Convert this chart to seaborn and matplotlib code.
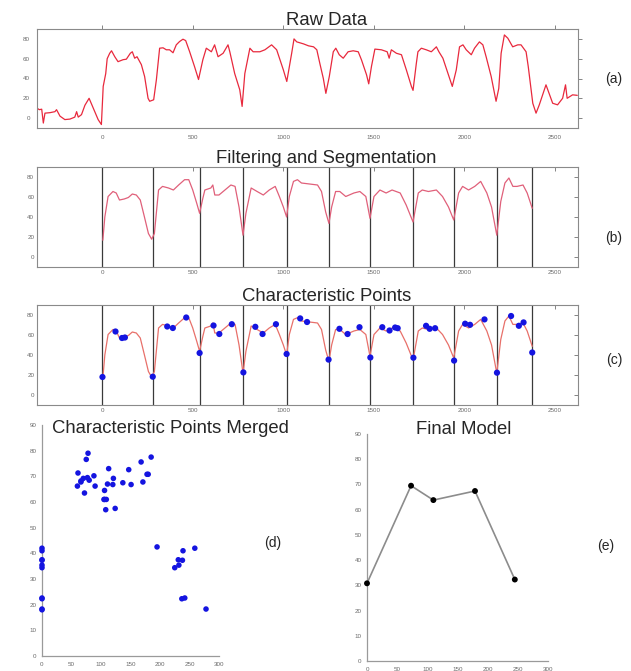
import matplotlib
matplotlib.use("Agg")
import matplotlib.pyplot as plt
import numpy as np
import pandas as pd
import seaborn as sns

# ---- raw sensor trace (sample index, value) ----
raw_x = [-362, -349, -336, -327, -318, -290, -263, -254, -235, -208, -180, -153, -143, -134,
         -116, -97, -74, -51, -24, -6, 4, 18, 26, 40, 50, 68, 86, 114, 132, 154, 165, 178,
         191, 215, 233, 252, 261, 283, 298, 316, 335, 353, 371, 390, 408, 426, 445, 460,
         482, 509, 531, 555, 574, 602, 620, 639, 667, 694, 704, 731, 759, 772, 787, 815,
         833, 870, 898, 935, 963, 1000, 1019, 1046, 1059, 1074, 1111, 1139, 1167, 1185,
         1202, 1221, 1235, 1254, 1276, 1290, 1309, 1331, 1358, 1386, 1414, 1432, 1460,
         1472, 1487, 1506, 1542, 1574, 1585, 1597, 1625, 1653, 1680, 1708, 1717, 1735,
         1744, 1763, 1790, 1818, 1846, 1860, 1882, 1910, 1934, 1956, 1974, 1993, 2011,
         2039, 2057, 2084, 2103, 2121, 2149, 2176, 2191, 2204, 2222, 2241, 2268, 2296,
         2314, 2342, 2354, 2379, 2397, 2415, 2452, 2489, 2516, 2544, 2560, 2569, 2599, 2625]
raw_y = [10, 8.5, 9, -5, 5, 5.5, 6.5, 8.5, 2, -1.5, -1, 1, 6.5, 1,
         3.5, 13, 20, 10, -1.5, -6.5, 32, 45, 60, 65.5, 68, 62, 57, 59, 59.5, 65.5, 67, 60.5,
         62, 54, 42, 20, 17, 18.5, 38.7, 70.6, 71, 69, 69, 66, 74, 77.3, 79.7, 78.3,
         67, 52, 39, 59, 70.6, 67, 74, 62, 65.5, 74, 67, 45, 28.6, 11.8, 45, 70.6,
         67, 67, 69, 74, 69, 48.7, 37, 65.5, 80, 77, 75, 73, 72, 69,
         55, 40, 25, 42, 67, 70.6, 64, 60.5, 67, 68, 67, 58.8, 43.7,
         34.6, 52, 69.7, 69, 67, 60.5, 69, 65.5, 64, 48.7, 32, 28, 55,
         67, 70.6, 69, 67, 72, 67, 60.5, 45, 32, 48.7, 72, 74, 69,
         64, 70.6, 77, 74, 62, 42, 17, 30, 65.5, 84, 80.7, 72, 74,
         74, 67, 52, 15, 5, 13.4, 33.6, 15, 13.4, 20, 33.6, 20, 23.5, 23]

# ---- filtered trace ----
filt_x = [2, 13, 31, 58, 76, 94, 120, 143, 165, 187, 209, 232, 254, 272, 287, 310, 332, 365,
          392, 421, 454, 477, 499, 521, 537, 555, 566, 599, 610, 621, 644, 677, 710, 733,
          755, 777, 793, 822, 855, 889, 922, 955, 978, 1000, 1018, 1033, 1056, 1078, 1100,
          1145, 1189, 1211, 1234, 1252, 1267, 1289, 1312, 1345, 1390, 1423, 1456, 1479,
          1501, 1534, 1568, 1601, 1646, 1679, 1717, 1746, 1768, 1802, 1846, 1880, 1913,
          1942, 1969, 1991, 2024, 2058, 2091, 2125, 2151, 2180, 2202, 2225, 2247, 2269,
          2292, 2325, 2348, 2376]
filt_y = [16.8, 40, 60.5, 65.5, 64, 57, 58, 59.5, 63, 62, 57, 40, 23.5, 17.8, 23.5, 67, 70.6, 69,
          67, 72, 77.3, 77.3, 67, 53.8, 43.7, 58.8, 67, 69, 72, 62, 62, 67, 72, 70.6,
          50, 21.8, 43.7, 69, 65.5, 62, 67, 70.6, 60.5, 50, 40, 60.5, 75.6, 77.3, 74,
          73, 72, 65.5, 45, 33.6, 50, 65.5, 65.5, 60.5, 64, 65.5, 60.5, 38.7,
          60.5, 67, 64, 67, 64, 52, 35, 64, 67, 65.5, 67, 60.5, 50,
          37, 64, 70.6, 67, 70.6, 75.6, 64, 50, 21.8, 55.5, 74, 79, 70.6,
          70.6, 72, 64, 48.7]

# ---- segmentation ----
seg_bounds = [0, 278, 537, 779, 1018, 1250, 1481, 1719, 1944, 2181, 2376]
bound_vals = [18, 18.3, 42, 22.6, 41, 35.4, 37.5, 37.3, 34.4, 22.3, 42.5]

# characteristic points inside each segment: offset from segment start, value
seg_offsets = [
    [72, 108, 124],
    [80, 111, 185],
    [77, 109, 178],
    [66, 106, 180],
    [75, 113],
    [60, 105, 171],
    [66, 106, 137, 151],
    [70, 90, 120],
    [61, 88, 168],
    [78, 121, 147],
]
seg_values = [
    [63.5, 57, 57.5],
    [68.5, 67, 77.5],
    [69.5, 61, 70.8],
    [68.2, 61, 70.8],
    [76.6, 73],
    [66.2, 61, 67.8],
    [67.8, 64.5, 67.5, 66.8],
    [69.2, 66.2, 66.8],
    [71.3, 70.2, 75.6],
    [79, 69.2, 72.6],
]

# ---- final model ----
model_x = [0, 73, 110, 179, 245]
model_y = [30.8, 69.5, 63.8, 67.4, 32.3]

# build tables
raw_df = pd.DataFrame({"t": raw_x, "v": raw_y})
filt_df = pd.DataFrame({"t": filt_x, "v": filt_y})

cp_t, cp_v = [], []
mg_t, mg_v = [], []
for i, (offs, vals) in enumerate(zip(seg_offsets, seg_values)):
    start = seg_bounds[i]
    length = seg_bounds[i + 1] - seg_bounds[i]
    mg_t.append(0)
    mg_v.append(bound_vals[i])
    for o, v in zip(offs, vals):
        cp_t.append(start + o)
        cp_v.append(v)
        mg_t.append(o)
        mg_v.append(v)
    mg_t.append(length)
    mg_v.append(bound_vals[i + 1])
cp_t += seg_bounds
cp_v += bound_vals
cp_df = pd.DataFrame({"t": cp_t, "v": cp_v})
mg_df = pd.DataFrame({"t": mg_t, "v": mg_v})
model_df = pd.DataFrame({"t": model_x, "v": model_y})

sns.set_style("white")
plt.rcParams["font.family"] = ["Liberation Sans", "DejaVu Sans"]

W, H = 631, 671
fig = plt.figure(figsize=(W / 100, H / 100), dpi=100)


def px_axes(left, top, right, bottom):
    return fig.add_axes([left / W, 1 - bottom / H, (right - left) / W, (bottom - top) / H])


ax_a = px_axes(37, 29, 578, 128)
ax_b = px_axes(37, 167, 578, 267)
ax_c = px_axes(37, 305, 578, 405)
ax_d = px_axes(42, 425, 219, 656)
ax_e = px_axes(367, 434, 548, 661)

spine_col = "#8a8a8a"
tick_col = "#707070"
title_size = 13.3

for ax, direction in ((ax_a, "out"), (ax_b, "in"), (ax_c, "in")):
    ax.set_xlim(-362, 2629)
    ax.set_ylim(-10, 90)
    ax.set_xticks(range(0, 2501, 500))
    ax.set_yticks(range(0, 81, 20))
    ax.tick_params(direction=direction, length=3, width=0.6, color=tick_col,
                   labelsize=4.5, labelcolor="#6a6a6a", top=True, right=True,
                   labeltop=False, labelright=False, pad=2)
    for s in ax.spines.values():
        s.set_color(spine_col)
        s.set_linewidth(0.8)

# (a) raw data
sns.lineplot(data=raw_df, x="t", y="v", ax=ax_a, color="#e8293d", lw=0.9,
             sort=False, estimator=None)
# (b) filtered data with segment borders
for b in seg_bounds:
    ax_b.axvline(b, color="#3a3a3a", lw=0.9)
sns.lineplot(data=filt_df, x="t", y="v", ax=ax_b, color="#e0607a", lw=0.9,
             sort=False, estimator=None)
# (c) characteristic points
for b in seg_bounds:
    ax_c.axvline(b, color="#3a3a3a", lw=0.9)
sns.lineplot(data=filt_df, x="t", y="v", ax=ax_c, color="#e8706a", lw=0.9,
             sort=False, estimator=None)
sns.scatterplot(data=cp_df, x="t", y="v", ax=ax_c, color="#1414e0", s=20,
                edgecolor="none", zorder=5)

for ax in (ax_a, ax_b, ax_c):
    ax.set_xlabel("")
    ax.set_ylabel("")

ax_a.set_title("Raw Data", fontsize=title_size, x=0.535, pad=3)
ax_b.set_title("Filtering and Segmentation", fontsize=title_size, x=0.535, pad=3)
ax_c.set_title("Characteristic Points", fontsize=title_size, x=0.535, pad=3)

# (d) merged points, (e) final model
for ax in (ax_d, ax_e):
    ax.set_xlim(0, 300)
    ax.set_ylim(0, 90)
    ax.set_xticks(range(0, 301, 50))
    ax.set_yticks(range(0, 91, 10))
    ax.tick_params(direction="out", length=2.5, width=0.6, color=tick_col,
                   labelsize=4.5, labelcolor="#6a6a6a", pad=1.5)
    for name in ("top", "right"):
        ax.spines[name].set_visible(False)
    for name in ("left", "bottom"):
        ax.spines[name].set_color("#9a9a9a")
        ax.spines[name].set_linewidth(0.9)

sns.scatterplot(data=mg_df, x="t", y="v", ax=ax_d, color="#1414e0", s=16,
                edgecolor="none", clip_on=False, zorder=5)
sns.lineplot(data=model_df, x="t", y="v", ax=ax_e, color="#8c8c8c", lw=1.2,
             sort=False, estimator=None)
sns.scatterplot(data=model_df, x="t", y="v", ax=ax_e, color="black", s=18,
                edgecolor="none", clip_on=False, zorder=5)
for ax in (ax_d, ax_e):
    ax.set_xlabel("")
    ax.set_ylabel("")

fig.text(170 / W, 1 - 433 / H, "Characteristic Points Merged", fontsize=title_size,
         ha="center", va="baseline")
fig.text(464 / W, 1 - 434 / H, "Final Model", fontsize=title_size, ha="center", va="baseline")

# panel letters
for label, x, y in (("(a)", 614, 79), ("(b)", 614, 238), ("(c)", 614, 360),
                    ("(d)", 273, 543), ("(e)", 606, 546)):
    fig.text(x / W, 1 - y / H, label, fontsize=10, ha="center", va="center")

fig.savefig("out.png", dpi=100)
